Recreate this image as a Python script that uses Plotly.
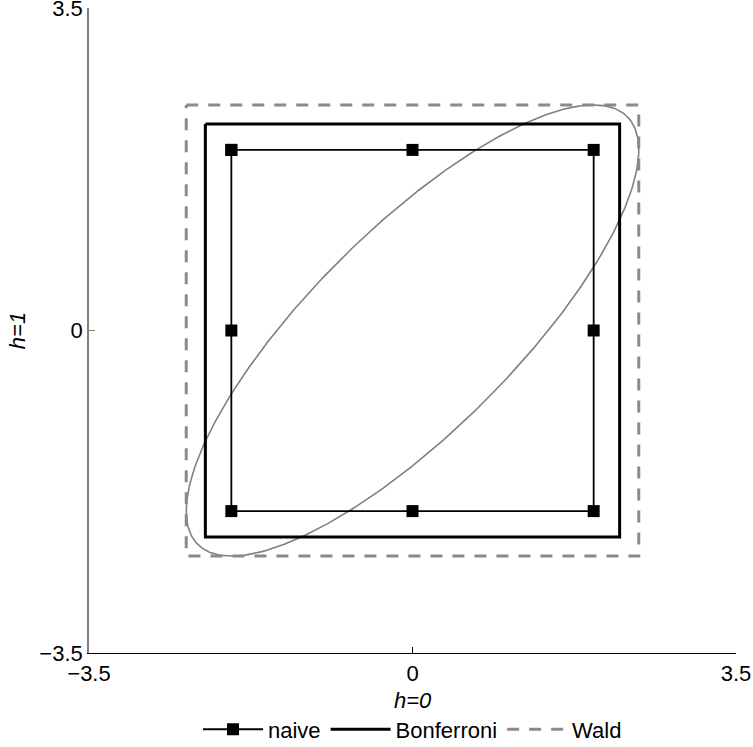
import numpy as np
import plotly.graph_objects as go

# --- data ---
z_naive = 1.96          # naive per-coordinate critical value
z_bonf = 2.241          # Bonferroni critical value (2 tests)
z_wald = 2.448          # sqrt(chi2_2, 0.95)
rho = 0.80              # correlation of the two estimates (ellipse tilt)

naive_x = [-z_naive, 0, z_naive, z_naive, z_naive, 0, -z_naive, -z_naive, -z_naive]
naive_y = [z_naive, z_naive, z_naive, 0, -z_naive, -z_naive, -z_naive, 0, z_naive]
bonf_x = [-z_bonf, z_bonf, z_bonf, -z_bonf, -z_bonf]
bonf_y = [z_bonf, z_bonf, -z_bonf, -z_bonf, z_bonf]
wald_x = [-z_wald, z_wald, z_wald, -z_wald, -z_wald]
wald_y = [z_wald, z_wald, -z_wald, -z_wald, z_wald]

tick_vals = [-3.5, 0, 3.5]
tick_text = ["\u22123.5", "0", "3.5"]
x_title = "<i>h=0</i>"
y_title = "<i>h=1</i>"

# ellipse: x^2 - 2 rho x y + y^2 = c (1 - rho^2), c = z_wald^2
t = np.linspace(0, 2 * np.pi, 400)
ell_x = z_wald * np.cos(t)
ell_y = z_wald * (rho * np.cos(t) + np.sqrt(1 - rho ** 2) * np.sin(t))

fig = go.Figure()
fig.add_trace(go.Scatter(x=ell_x, y=ell_y, mode="lines",
                         line=dict(color="#808080", width=1.6), showlegend=False))
fig.add_trace(go.Scatter(x=naive_x, y=naive_y, mode="lines+markers", name="naive",
                         line=dict(color="black", width=1.8),
                         marker=dict(symbol="square", size=12, color="black")))
fig.add_trace(go.Scatter(x=bonf_x, y=bonf_y, mode="lines", name="Bonferroni",
                         line=dict(color="black", width=3)))
fig.add_trace(go.Scatter(x=wald_x, y=wald_y, mode="lines", name="Wald",
                         line=dict(color="#8a8a8a", width=3, dash="12px,10px")))

font_family = "Liberation Sans, Arial, sans-serif"
fig.update_layout(
    width=753, height=747,
    margin=dict(l=89, r=17, t=8, b=94, autoexpand=False),
    paper_bgcolor="white", plot_bgcolor="white",
    font=dict(family=font_family, size=22, color="black"),
    xaxis=dict(range=[-3.5, 3.5], tickvals=tick_vals, ticktext=tick_text,
               showgrid=False, zeroline=False, showline=True, linecolor="black",
               linewidth=1.2, ticks="inside", ticklen=6, tickcolor="black",
               tickfont=dict(size=22), automargin=False, ticklabeloverflow="allow"),
    yaxis=dict(range=[-3.5, 3.5], tickvals=tick_vals, ticktext=tick_text,
               showgrid=False, zeroline=False, showline=True, linecolor="#808080",
               linewidth=1.7, ticks="inside", ticklen=6, tickcolor="#808080",
               tickfont=dict(size=22), automargin=False, ticklabeloverflow="allow",
               title=dict(text=y_title, standoff=8, font=dict(size=22))),
    legend=dict(orientation="h", x=0.5, xanchor="center", y=-0.086, yanchor="top",
                itemwidth=60, font=dict(size=22), bgcolor="rgba(0,0,0,0)",
                tracegroupgap=0),
    annotations=[dict(text=x_title, xref="paper", yref="paper", x=0.5, y=-0.0729,
                      xanchor="center", yanchor="middle", showarrow=False,
                      font=dict(size=22))],
)

fig.write_html("out.html", config={"displayModeBar": False},
               post_script="document.body.style.margin='0';")
